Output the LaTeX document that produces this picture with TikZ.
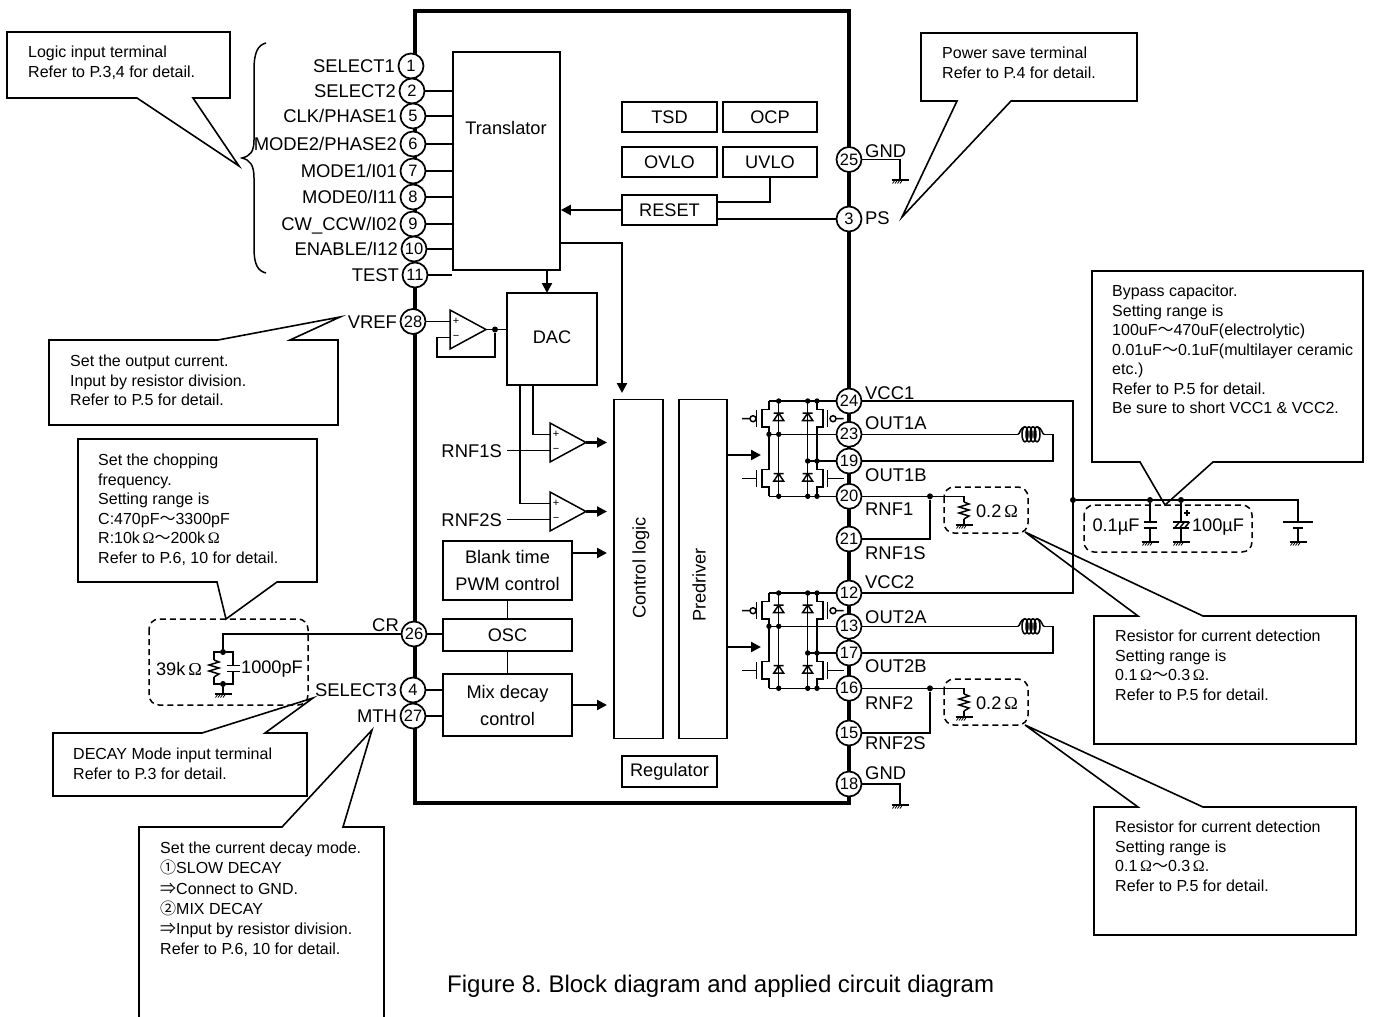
\documentclass[tikz,border=0pt]{standalone}
\usepackage{fontspec}
\setmainfont{Liberation Sans}
\newfontfamily\jpfont{Noto Sans CJK JP}
\newfontfamily\omfont{Liberation Serif}
\newcommand{\jpch}[1]{{\jpfont #1}}
\newcommand{\ohmch}{\,{\omfont Ω}}
\usetikzlibrary{arrows.meta,positioning}
\frenchspacing

\tikzset{
  wire/.style={line width=1.5pt},
  arrowline/.style={line width=2.2pt,-{Triangle[length=10pt,width=10pt]}},
  callout/.style={line width=1.6pt,line join=miter},
  calltext/.style={anchor=north west,inner sep=0pt,align=left,font=\fontsize{16}{19.5}\selectfont},
  blk/.style={draw,line width=1.6pt,inner sep=0pt,font=\fontsize{18.2}{27}\selectfont,align=center},
  boxtext/.style={inner sep=0pt,font=\fontsize{18.2}{27}\selectfont,align=center},
  pinc/.style={circle,draw,fill=white,line width=1.7pt,minimum size=25pt,inner sep=0pt,font=\fontsize{16.5}{16.5}\selectfont},
  pinlabel/.style={inner sep=0pt,text height=13pt,text depth=0pt,font=\fontsize{18.4}{20}\selectfont},
  jdot/.style={circle,fill=black,minimum size=6pt,inner sep=0pt},
  dashbox/.style={line width=1.5pt,dash pattern=on 6pt off 4pt,rounded corners=10pt},
  gndsym/.pic={
    \draw[wire] (-8.5,0) -- (8.5,0);
    \foreach \hx in {-5,-2.5,0,2.5}
      \draw[line width=0.8pt] (\hx,0) -- (\hx-2.5,3.5);
  },
  rzig/.pic={
    \coordinate (-top) at (0,0);
    \coordinate (-bot) at (0,17);
    \draw[wire] (0,0) -- (5,2) -- (-5,5) -- (5,8) -- (-5,11) -- (5,14) -- (0,17);
  },
  capsym/.pic={
    \coordinate (-top) at (0,0);
    \coordinate (-bot) at (0,6);
    \draw[wire] (-6.5,0) -- (6.5,0) (-6.5,6) -- (6.5,6);
  },
  polcap/.pic={
    \coordinate (-top) at (0,0);
    \coordinate (-bot) at (0,6);
    \draw[wire] (-8,0) -- (8,0) (-8,6) -- (8,6);
    \foreach \hx in {-4,1,6}
      \draw[wire] (\hx+2.5,0) -- (\hx-2.5,6);
    \draw[line width=1.2pt] (3,-9) -- (9,-9) (6,-12) -- (6,-6);
  },
  batsym/.pic={
    \coordinate (-top) at (0,0);
    \coordinate (-bot) at (0,6);
    \draw[wire] (-15,0) -- (15,0) (-5,6) -- (5,6);
  },
  coil/.pic={
    \coordinate (-in) at (0,0);
    \coordinate (-out) at (26,0);
    \foreach \cx in {7,11,15,19}
      \draw[wire] (\cx,0) ellipse [x radius=3,y radius=7.5];
    \draw[wire] (0,0) .. controls (2,0) and (2,-7) .. (7,-7.5);
    \draw[wire] (19,-7.5) .. controls (24,-7) and (24,0) .. (26,0);
  },
  amp/.pic={
    \coordinate (-plus) at (0,11.5);
    \coordinate (-minus) at (0,27.5);
    \coordinate (-out) at (36,19.5);
    \draw[wire,line join=miter] (0,0) -- (36,19.5) -- (0,39) -- cycle;
    \node[inner sep=0pt,font=\fontsize{11}{11}\selectfont] at (6,11.5) {+};
    \node[inner sep=0pt,font=\fontsize{11}{11}\selectfont] at (6,27.5) {−};
  },
  hbridge/.pic={
    \coordinate (-top) at (0,0);
    \coordinate (-mida) at (0,33.3);
    \coordinate (-midb) at (38.7,60);
    \coordinate (-bot) at (0,95.3);
    % legs
    \draw[wire] (0,0) -- (0,8.7) -- (-7,8.7) -- (-7,26) -- (0,26) -- (0,68.7) -- (-7,68.7) -- (-7,86) -- (0,86) -- (0,95.3);
    \draw[wire] (48,0) -- (48,8.7) -- (54,8.7) -- (54,26) -- (48,26) -- (48,68.7) -- (54,68.7) -- (54,86) -- (48,86) -- (48,95.3);
    % gates
    \draw[wire] (-12.7,9) -- (-12.7,26) (58.7,9) -- (58.7,26) (-12.7,69) -- (-12.7,86) (58.7,69) -- (58.7,86);
    \draw[wire] (-27,17.7) -- (-19,17.7) (-16,17.7) circle (3) (67,17.7) -- (74.7,17.7) (64,17.7) circle (3);
    \draw[wire] (-27,77.7) -- (-12.7,77.7) (58.7,77.7) -- (74.7,77.7);
    % diodes
    \draw[wire] (9.7,0) -- (9.7,95.3) (38.7,0) -- (38.7,95.3);
    \foreach \dx in {9.7,38.7}
      \foreach \dy in {12,72.7}
        \draw[wire] (\dx-5,\dy) -- (\dx+5,\dy) (\dx-5,\dy+7.5) -- (\dx+5,\dy+7.5) -- (\dx,\dy) -- cycle;
    \foreach \nx/\ny in {9.7/0,38.7/0,48/0,0/33.3,9.7/33.3,38.7/60,48/60,9.7/95.3,38.7/95.3,48/95.3}
      \fill (\nx,\ny) circle (2.7);
  }
}

\begin{document}
\begin{tikzpicture}[x=1pt,y=-1pt]
\useasboundingbox (0,0) rectangle (1392,1017);

\draw[line width=3.5pt] (415,11) rectangle (849,803);

% blocks
\node[blk,minimum width=107pt,minimum height=218pt] (translator) at (506.5,161) {};
\node[boxtext] (translatortxt) at (506,128) {Translator};
\node[blk,minimum width=95pt,minimum height=30pt] (tsd) at (669.5,117) {TSD};
\node[blk,minimum width=94pt,minimum height=30pt] (ocp) at (770,117) {OCP};
\node[blk,minimum width=95pt,minimum height=30pt] (ovlo) at (669.5,162) {OVLO};
\node[blk,minimum width=94pt,minimum height=30pt] (uvlo) at (770,162) {UVLO};
\node[blk,minimum width=95pt,minimum height=30pt] (reset) at (669.5,210) {RESET};
\node[blk,minimum width=90pt,minimum height=92pt] (dac) at (552,339) {};
\node[boxtext] (dactxt) at (552,337) {DAC};
\node[blk,minimum width=49pt,minimum height=339pt] (ctrl) at (638.5,569) {};
\node[boxtext,rotate=90] (ctrltxt) at (641,568) {Control logic};
\node[blk,minimum width=48pt,minimum height=339pt] (predrv) at (703,569) {};
\node[boxtext,rotate=90] (predrvtxt) at (699,585) {Predriver};
\node[blk,minimum width=129pt,minimum height=59pt] (blank) at (507.5,570.5) {Blank time\\PWM control};
\node[blk,minimum width=129pt,minimum height=32pt] (osc) at (507.5,635) {OSC};
\node[blk,minimum width=129pt,minimum height=62pt] (mix) at (507.5,705) {Mix decay\\control};
\node[blk,minimum width=95pt,minimum height=31pt] (regulator) at (669.5,771.5) {Regulator};

% pins on the left
\foreach \pinid/\xp/\yp/\txt in {1/411/66/SELECT1,2/412/91/SELECT2,5/413/116/{CLK/PHASE1},6/413/144/{MODE2/PHASE2},
  7/413/171/{MODE1/I01},8/413/197/{MODE0/I11},9/413/224/{CW\_CCW/I02},10/414/249/{ENABLE/I12},11/415/275/TEST,
  28/413/321.5/VREF,4/413/690/SELECT3,27/413/716/MTH}{
  \node[pinc] (p\pinid) at (\xp,\yp) {\pinid};
  \node[pinlabel,left=2.5pt of p\pinid] (lbl\pinid) {\txt};
}
\node[pinc] (p26) at (414,634) {26};
\node[pinlabel,anchor=east] (lbl26) at (399,625) {CR};

% pins on the right
\foreach \pinid/\yp/\yl/\txt in {25/159.5/151/GND,3/219/218/PS,24/401/393/VCC1,23/434.3/423/OUT1A,19/461/475/OUT1B,
  20/496.3/509/RNF1,21/539/553/RNF1S,12/593/582/VCC2,13/626.3/617/OUT2A,17/653/666/OUT2B,16/688.3/703/RNF2,
  15/733/743/RNF2S,18/784/773/GND}{
  \node[pinc] (p\pinid) at (849,\yp) {\pinid};
  \node[pinlabel,anchor=west] (lbl\pinid) at (865,\yl) {\txt};
}

% logic wires
\foreach \pinid in {2,5,6,7,8,9,10,11}
  \draw[wire] (p\pinid) -- (p\pinid -| translator.west);
\draw[wire] (uvlo.south) |- (717,202);
\draw[wire] (p3) -- (p3 -| reset.east);
\draw[arrowline] (reset.west) -- (reset.west -| translator.east);
\coordinate (transout) at (547,270);
\coordinate (dacin) at (547,293);
\draw[arrowline] (transout) -- (dacin);
\coordinate (ctrlturn) at (622,243);
\coordinate (ctrlin) at (622,393);
\draw[arrowline,line join=miter] (translator.east |- ctrlturn) -- (ctrlturn) -- (ctrlin);

% amplifiers
\pic (amp1) at (450,310) {amp};
\pic (amp2) at (550,423) {amp};
\pic (amp3) at (550,492) {amp};
\draw[wire] (p28) -- (amp1-plus);
\draw[wire] (amp1-out) -- (amp1-out -| dac.west);
\node[jdot] (fbdot) at (495,329.5) {};
\draw[wire] (amp1-minus) -- (437,337.5) -- (437,357) -| (fbdot);
\coordinate (dacr) at (533,385);
\coordinate (dacl) at (520,385);
\draw[wire] (dacr) |- (amp2-plus);
\draw[wire] (dacl) |- (amp3-plus);
\node[pinlabel,anchor=east] (lblrnfa) at (502,450.5) {RNF1S};
\node[pinlabel,anchor=east] (lblrnfb) at (502,519.5) {RNF2S};
\draw[wire] ([xshift=5pt]lblrnfa.east) -- (amp2-minus);
\draw[wire] ([xshift=5pt]lblrnfb.east) -- (amp3-minus);
\coordinate (ampaout) at (607,442.5);
\coordinate (ampbout) at (607,511.5);
\draw[arrowline] (amp2-out) -- (ampaout);
\draw[arrowline] (amp3-out) -- (ampbout);

% lower blocks
\draw[wire] (blank.south) -- (osc.north);
\draw[wire] (osc.south) -- (mix.north);
\draw[wire] (p26) -- (p26 -| osc.west);
\draw[wire] (p4) -- (p4 -| mix.west);
\draw[wire] (p27) -- (p27 -| mix.west);
\coordinate (blankout) at (607,553);
\coordinate (mixout) at (607,705);
\draw[arrowline] (blankout -| blank.east) -- (blankout);
\draw[arrowline] (mixout -| mix.east) -- (mixout);

% output stages
\foreach \ch/\vcc/\oa/\ob/\rn/\rs/\yo in {1/24/23/19/20/21/0,2/12/13/17/16/15/192}{
  \pic (hb\ch) at (769,401+\yo) {hbridge};
  \coordinate (drv\ch) at (761,455+\yo);
  \draw[arrowline] (drv\ch -| predrv.east) -- (drv\ch);
  \draw[wire] (hb\ch-top) -- (p\vcc);
  \draw[wire] (hb\ch-mida) -- (p\oa);
  \draw[wire] (hb\ch-midb) -- (p\ob);
  \draw[wire] (hb\ch-bot) -- (p\rn);
  % load coil
  \pic (coil\ch) at (1018,434.3+\yo) {coil};
  \coordinate (wrap\ch) at (1053,434.3+\yo);
  \draw[wire] (p\oa) -- (coil\ch-in);
  \draw[wire] (coil\ch-out) -- (wrap\ch) |- (p\ob);
  % sense resistor
  \node[jdot] (sense\ch) at (930,496.3+\yo) {};
  \pic (rs\ch) at (964,502+\yo) {rzig};
  \coordinate (rsgnd\ch) at (964,525+\yo);
  \pic at (rsgnd\ch) {gndsym};
  \draw[wire] (p\rn) -- (sense\ch);
  \draw[wire] (sense\ch) -| (rs\ch-top);
  \draw[wire] (rs\ch-bot) -- (rsgnd\ch);
  \draw[wire] (sense\ch) |- (p\rs);
  \draw[dashbox] (944,487+\yo) rectangle (1028,533+\yo);
  \node[boxtext] (rsval\ch) at (997,511+\yo) {0.2\ohmch};
}

% ground pins
\coordinate (gndtop) at (900,180);
\coordinate (gndbot) at (900,805);
\draw[wire] (p25) -| (gndtop);
\draw[wire] (p18) -| (gndbot);
\pic at (gndtop) {gndsym};
\pic at (gndbot) {gndsym};

% supply
\coordinate (vcctop) at (1073,401);
\coordinate (vccbot) at (1073,593);
\draw[wire] (p24) -- (vcctop) -- (vccbot) -- (p12);
\node[jdot] (vccdot) at (1073,500) {};
\node[jdot] (capadot) at (1150,500) {};
\node[jdot] (capbdot) at (1181,500) {};
\coordinate (batcorner) at (1298,500);
\pic (capa) at (1150,522) {capsym};
\pic (capb) at (1181,522) {polcap};
\pic (bat) at (1298,522) {batsym};
\draw[wire] (vccdot) -- (batcorner) -- (bat-top);
\draw[wire] (capadot) -- (capa-top);
\draw[wire] (capbdot) -- (capb-top);
\foreach \part/\xg in {capa/1150,capb/1181,bat/1298}{
  \coordinate (\part gnd) at (\xg,542);
  \draw[wire] (\part-bot) -- (\part gnd);
  \pic at (\part gnd) {gndsym};
}
\draw[dashbox] (1084,505) rectangle (1252,552);
\node[boxtext] (capaval) at (1116,527) {0.1µF};
\node[boxtext] (capbval) at (1218,527) {100µF};

% chopping parts
\node[jdot] (crtop) at (223,652) {};
\node[jdot] (crbot) at (223,684) {};
\pic (rcr) at (214,660) {rzig};
\pic (ccr) at (233,665.5) {capsym};
\coordinate (crgnd) at (223,694);
\pic at (crgnd) {gndsym};
\draw[wire] (p26) -| (crtop);
\draw[wire] (crtop) -| (rcr-top);
\draw[wire] (rcr-bot) |- (crbot);
\draw[wire] (crtop) -| (ccr-top);
\draw[wire] (ccr-bot) |- (crbot);
\draw[wire] (crbot) -- (crgnd);
\draw[dashbox] (149,619) rectangle (308,705);
\node[boxtext] (rcrval) at (179,669) {39k\ohmch};
\node[boxtext] (ccrval) at (272,669) {1000pF};

% brace for the logic inputs
\draw[wire] (266,43) .. controls (258,45) and (254,52) .. (254,70) -- (254,140) .. controls (254,152) and (250,156) .. (242,158) .. controls (250,160) and (254,165) .. (254,178) -- (254,248) .. controls (254,265) and (258,271) .. (266,273);

% callouts
\draw[callout] (7,32) -- (230,32) -- (230,98) -- (193,98) -- (239,166) -- (137,98) -- (7,98) -- cycle;
\node[calltext] (notelogic) at (28,46) {Logic input terminal\\Refer to P.3,4 for detail.};

\draw[callout] (921,33) -- (1137,33) -- (1137,101) -- (1011,101) -- (902,217) -- (957,101) -- (921,101) -- cycle;
\node[calltext] (notesave) at (942,47) {Power save terminal\\Refer to P.4 for detail.};

\draw[callout] (49,340) -- (218,340) -- (340,317) -- (290,340) -- (338,340) -- (338,425) -- (49,425) -- cycle;
\node[calltext] (notevref) at (70,355) {Set the output current.\\Input by resistor division.\\Refer to P.5 for detail.};

\draw[callout] (78,439) -- (317,439) -- (317,582) -- (277,582) -- (226,619) -- (217,582) -- (78,582) -- cycle;
\node[calltext] (notechop) at (98,454) {Set the chopping\\frequency.\\Setting range is\\C:470pF\jpch{～}3300pF\\R:10k\ohmch\jpch{～}200k\ohmch\\Refer to P.6, 10 for detail.};

\draw[callout] (53,733) -- (202,733) -- (313,698) -- (265,733) -- (307,733) -- (307,796) -- (53,796) -- cycle;
\node[calltext] (noteselect) at (73,748) {DECAY Mode input terminal\\Refer to P.3 for detail.};

\draw[callout] (139,1017) -- (139,827) -- (282,827) -- (372,730) -- (343,827) -- (384,827) -- (384,1017);
\node[calltext,font=\fontsize{16}{20.1}\selectfont] (notemth) at (160,842) {Set the current decay mode.\\\jpch{①}SLOW DECAY\\\jpch{⇒}Connect to GND.\\\jpch{②}MIX DECAY\\\jpch{⇒}Input by resistor division.\\Refer to P.6, 10 for detail.};

\draw[callout] (1092,271) -- (1363,271) -- (1363,462) -- (1213,462) -- (1165,505) -- (1140,462) -- (1092,462) -- cycle;
\node[calltext] (notebypass) at (1112,285) {Bypass capacitor.\\Setting range is\\100uF\jpch{～}470uF(electrolytic)\\0.01uF\jpch{～}0.1uF(multilayer ceramic\\etc.)\\Refer to P.5 for detail.\\Be sure to short VCC1 \& VCC2.};

\foreach \rsn/\ytop/\ybot/\ytip in {a/616/744/532,b/807/935/725}{
  \draw[callout] (1094,\ytop) -- (1138,\ytop) -- (1025,\ytip) -- (1203,\ytop) -- (1356,\ytop) -- (1356,\ybot) -- (1094,\ybot) -- cycle;
  \node[calltext] (noters\rsn) at (1115,\ytop+14) {Resistor for current detection\\Setting range is\\0.1\ohmch\jpch{～}0.3\ohmch.\\Refer to P.5 for detail.};
}

\node[anchor=west,inner sep=0pt,font=\fontsize{24}{26}\selectfont] (caption) at (447,986) {Figure 8. Block diagram and applied circuit diagram};

\end{tikzpicture}
\end{document}
